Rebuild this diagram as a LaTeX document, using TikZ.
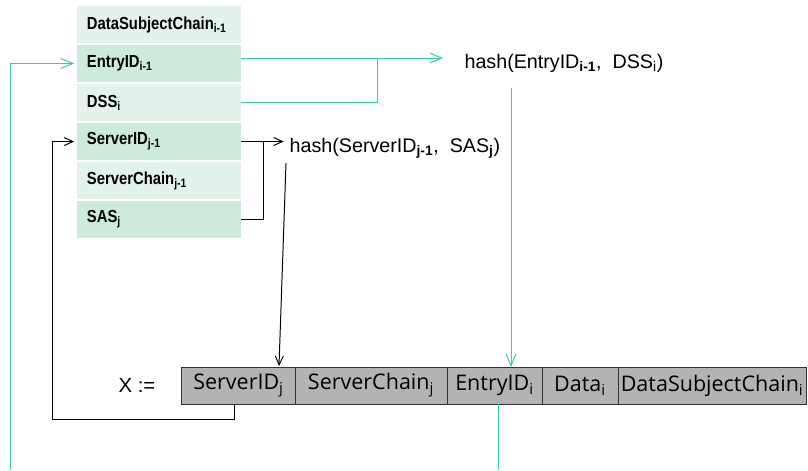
\documentclass[tikz,border=0pt]{standalone}
\usepackage{fontspec}
\setmainfont{Liberation Sans}
\newfontfamily\narrowfont[FakeStretch=0.85]{Liberation Sans}
\newfontfamily\barfont{Open Sans}
\usetikzlibrary{positioning, arrows.meta}
\definecolor{chaingreen}{HTML}{2ED3A0}
\definecolor{rowlight}{HTML}{E3F3EC}
\definecolor{rowdark}{HTML}{CCEBDD}
\definecolor{cellgray}{HTML}{B3B3B3}
\newcommand{\rowsub}[1]{\textsubscript{\textbf{#1}}}

\begin{document}
\begin{tikzpicture}[x = 0.025cm, y = -0.025cm, line width = 0.7pt,
    rowcell/.style = {inner xsep = 0.25cm, inner ysep = 0, outer sep = 0, text width = 3.6cm, minimum height = 0.925cm, align = left, font = \narrowfont\bfseries\fontsize{12.4}{14}\selectfont},
    lightrow/.style = {rowcell, fill = rowlight},
    darkrow/.style = {rowcell, fill = rowdark},
    barcell/.style = {draw = black!80, fill = cellgray, inner sep = 0, outer sep = 0, minimum height = 0.925cm, font = \barfont\fontsize{15.3}{17}\selectfont},
    hashtext/.style = {inner sep = 0, font = \fontsize{14}{16}\selectfont},
    greenline/.style = {draw = chaingreen},
    greenarrow/.style = {greenline, -{Straight Barb[length = 0.3cm, width = 0.25cm]}},
    blackline/.style = {draw = black},
    blackarrow/.style = {blackline, -{Straight Barb[length = 0.22cm, width = 0.2cm]}}]
	\useasboundingbox (0, 0) rectangle (808, 470);

	% previous entry
	\node[lightrow] (dscPrev) at (159, 24.5) {DataSubjectChain\rowsub{i-1}};
	\node[darkrow, below = 0.05cm of dscPrev] (entryPrev) {EntryID\rowsub{i-1}};
	\node[lightrow, below = 0.05cm of entryPrev] (dssCur) {DSS\rowsub{i}};
	\node[darkrow, below = 0.05cm of dssCur] (serverPrev) {ServerID\rowsub{j-1}};
	\node[lightrow, below = 0.05cm of serverPrev] (chainPrev) {ServerChain\rowsub{j-1}};
	\node[darkrow, below = 0.05cm of chainPrev] (sasCur) {SAS\rowsub{j}};

	% hashes
	\node[hashtext] (hashEntry) at (564, 63) {hash(EntryID\rowsub{i-1},\ \ DSS\textsubscript{i})};
	\node[hashtext] (hashServer) at (395, 148) {hash(ServerID\rowsub{j-1},\ \ SAS\rowsub{j})};

	% new entry
	\node[font = \fontsize{14.5}{16}\selectfont] (assign) at (137, 385) {X :=};
	\node[barcell, minimum width = 2.825cm] (serverCur) at (238.5, 385.5) {ServerID\textsubscript{j}};
	\node[barcell, minimum width = 3.8cm, right = 0pt of serverCur] (chainCur) {ServerChain\textsubscript{j}};
	\node[barcell, minimum width = 2.375cm, right = 0pt of chainCur] (entryCur) {EntryID\textsubscript{i}};
	\node[barcell, minimum width = 1.9cm, right = 0pt of entryCur] (dataCur) {Data\textsubscript{i}};
	\node[barcell, minimum width = 4.7cm, right = 0pt of dataCur] (dscCur) {DataSubjectChain\textsubscript{i}};

	\coordinate (hashEntryIn) at (443, 58);
	\coordinate (dssJoin) at (377, 58);
	\coordinate (hashEntryOut) at (511, 88);
	\coordinate (entryLoop) at (498, 470);
	\coordinate (entryLoopLeft) at (10, 470);
	\coordinate (sasJoin) at (263, 142);
	\coordinate (hashServerOut) at (286, 163);
	\coordinate (serverCurIn) at (279, 366);
	\coordinate (serverLoop) at (52, 419);

	% entry chain
	\draw[greenarrow] (entryPrev.east |- hashEntryIn) -- (hashEntryIn);
	\draw[greenline] (dssCur.east) -| (dssJoin);
	\draw[greenarrow] (hashEntryOut) -- (hashEntryOut |- entryCur.north);
	\draw[greenline] (entryCur.south -| entryLoop) -- (entryLoop);
	\draw[greenarrow, shorten > = 2pt] (entryLoopLeft) |- (entryPrev.west);

	% server chain
	\draw[blackarrow, shorten > = 4pt] (serverPrev.east) -- (serverPrev.east -| hashServer.west);
	\draw[blackline] (sasCur.east) -| (sasJoin);
	\draw[blackarrow] (hashServerOut) -- (serverCurIn);
	\draw[blackarrow, shorten > = 2pt] ([xshift = -0.1cm]serverCur.south) |- (serverLoop) |- (serverPrev.west);
\end{tikzpicture}
\end{document}
